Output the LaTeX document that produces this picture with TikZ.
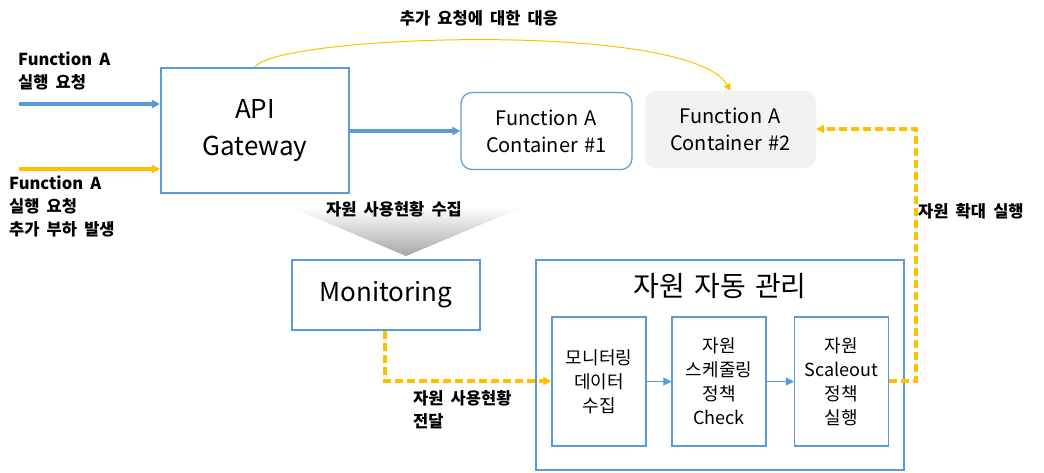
\documentclass[tikz,border=0pt]{standalone}
\usepackage{fontspec}
\setmainfont{Noto Sans CJK KR}[WordSpace=1.5]
\newfontfamily\lblfont{Noto Sans CJK KR}[WordSpace=1.9]
\usetikzlibrary{arrows.meta,shadings}
\definecolor{bl}{HTML}{5B9BD5}
\definecolor{yl}{HTML}{FFC000}
\definecolor{lg}{HTML}{F2F2F2}
\tikzset{
  big/.style={draw=bl,line width=2pt,fill=white,align=center,inner sep=0pt},
  cont/.style={rounded corners=11pt,align=center,inner sep=0pt,minimum width=171pt,minimum height=77pt,font=\fontsize{20}{27}\selectfont},
  inner/.style={draw=bl,line width=1.1pt,align=center,inner sep=0pt,minimum width=94pt,minimum height=129pt,font=\fontsize{18}{24}\selectfont},
  lbl/.style={font=\lblfont\bfseries\fontsize{16.5}{23}\selectfont,align=left,inner sep=0pt},
  tip/.style={-{Triangle[length=8pt,width=8pt]}},
  yd/.style={draw=yl,line width=3.2pt,dash pattern=on 8pt off 4pt},
}
\begin{document}
\begin{tikzpicture}[x=1pt,y=-1pt]
\useasboundingbox[fill=white] (0,0) rectangle (1044,472);
% gradient wedge
\shade[top color=white,bottom color=gray!70] (290,207) -- (523,207) -- (406,256) -- cycle;
\node[lbl] (lcol) at (394,209) {자원 사용현황 수집};
% nodes
\node[big,minimum width=188pt,minimum height=125pt,font=\fontsize{26}{37}\selectfont] (gw) at (255,130.5) {API\\Gateway};
\node[cont,draw=bl,line width=1.2pt] (c1) at (546.5,131) {Function A\\Container \#1};
\node[cont,fill=lg] (c2) at (730.5,129.5) {Function A\\Container \#2};
\node[big,minimum width=188pt,minimum height=70pt,font=\fontsize{26}{30}\selectfont] (mon) at (386,295) {Monitoring};
\node[draw=bl,line width=2pt,minimum width=368pt,minimum height=210pt,inner sep=0pt] (mg) at (720,365) {};
\node[font=\fontsize{28}{32}\selectfont,inner sep=0pt] (mgt) at (720,286) {자원 자동 관리};
\node[inner] (b1) at (599,381.5) {모니터링\\데이터\\수집};
\node[inner] (b2) at (719,381.5) {자원\\스케줄링\\정책\\Check};
\node[inner] (b3) at (841.5,381.5) {자원\\Scaleout\\정책\\실행};
% labels
\node[lbl,anchor=north west] (l1) at (18,52) {Function A\\실행 요청};
\node[lbl,anchor=north west] (l2) at (9,176) {Function A\\실행 요청\\추가 부하 발생};
\node[lbl] (l3) at (479,18) {추가 요청에 대한 대응};
\node[lbl,anchor=west] (l4) at (918,211) {자원 확대 실행};
\node[lbl,anchor=north west] (l5) at (413,390) {자원 사용현황\\전달};
% connectors
\coordinate (s1) at (19,104);
\coordinate (s2) at (19,169);
\draw[bl,line width=3.5pt,tip] (s1) -- (gw.west |- s1);
\draw[yl,line width=3.5pt,tip] (s2) -- (gw.west |- s2);
\draw[bl,line width=4.5pt,tip] (gw.east |- c1) -- (c1.west);
\draw[yl,line width=1pt,-{Triangle[length=7pt,width=7pt]}] (gw.north) .. controls (275,35) and (690,20) .. (c2.north);
\coordinate (m1) at (385,381);
\draw[yd,-{Triangle[length=8pt,width=8pt]}] (mon.south -| m1) -- (m1) -- (b1.west |- m1);
\draw[bl,line width=1pt,-{Triangle[length=8pt,width=8pt]}] (b1.east) -- (b2.west);
\draw[bl,line width=1pt,-{Triangle[length=8pt,width=8pt]}] (b2.east) -- (b3.west);
\coordinate (r1) at (916,381);
\coordinate (r2) at (916,129);
\draw[yd,-{Triangle[length=8pt,width=8pt]}] (b3.east |- r1) -- (r1) -- (r2) -- (c2.east |- r2);
\end{tikzpicture}
\end{document}
